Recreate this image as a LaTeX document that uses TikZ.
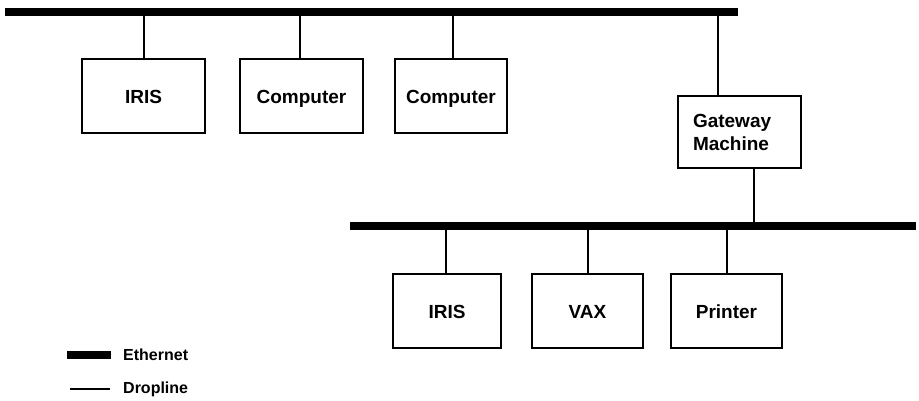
\documentclass[tikz,border=0pt]{standalone}
\usepackage{fontspec}
\setmainfont{Liberation Sans}
\begin{document}
\begin{tikzpicture}[x=1pt,y=-1pt,
  every node/.style={font=\fontsize{19}{23}\selectfont\bfseries},
  box/.style={draw,line width=2.4pt,minimum height=74pt,inner sep=0pt,text height=15pt,text depth=0pt},
  bus/.style={line width=8pt},
  drop/.style={line width=2pt}]
\useasboundingbox (0,0) rectangle (919,400);
% buses
\coordinate (b1l) at (5,12);
\coordinate (b1r) at (738,12);
\coordinate (b2l) at (350,225.5);
\coordinate (b2r) at (916,225.5);
\draw[bus] (b1l) -- (b1r);
\draw[bus] (b2l) -- (b2r);
% top nodes
\node[box,minimum width=123pt] (iris1) at (143.5,96) {IRIS};
\node[box,minimum width=123pt] (comp1) at (301.5,96) {Computer};
\node[box,minimum width=112pt] (comp2) at (451,96) {Computer};
\node[draw,line width=2.4pt,minimum height=72pt,text width=93pt,align=left,inner xsep=15pt,inner ysep=0pt] (gw) at (739.5,132) {\raisebox{-2pt}{\parbox{93pt}{Gateway\\Machine}}};
% bottom nodes
\node[box,minimum width=108pt,text height=14pt] (iris2) at (447,311) {IRIS};
\node[box,minimum width=111pt,text height=14pt] (vax) at (587.5,311) {VAX};
\node[box,minimum width=111pt,text height=14pt] (prn) at (726.5,311) {Printer};
% droplines
\draw[drop] (iris1.north) -- (iris1.north |- b1l);
\draw[drop] ([xshift=-1.5pt]comp1.north) -- ([xshift=-1.5pt]comp1.north |- b1l);
\draw[drop] ([xshift=2pt]comp2.north) -- ([xshift=2pt]comp2.north |- b1l);
\draw[drop] ([xshift=-21.5pt]gw.north) -- ([xshift=-21.5pt]gw.north |- b1l);
\draw[drop] ([xshift=14.5pt]gw.south) -- ([xshift=14.5pt]gw.south |- b2l);
\draw[drop] ([xshift=-1pt]iris2.north) -- ([xshift=-1pt]iris2.north |- b2l);
\draw[drop] (vax.north) -- (vax.north |- b2l);
\draw[drop] (prn.north) -- (prn.north |- b2l);
% legend
\coordinate (le1) at (67,355);
\coordinate (le2) at (111,355);
\coordinate (ld1) at (70,389);
\coordinate (ld2) at (110,389);
\draw[bus] (le1) -- (le2);
\draw[line width=1.5pt] (ld1) -- (ld2);
\node[anchor=west,inner sep=0pt,font=\fontsize{16}{19}\selectfont\bfseries] (lt1) at (123,355) {Ethernet};
\node[anchor=west,inner sep=0pt,font=\fontsize{16}{19}\selectfont\bfseries] (lt2) at (123,389) {Dropline};
\end{tikzpicture}
\end{document}
